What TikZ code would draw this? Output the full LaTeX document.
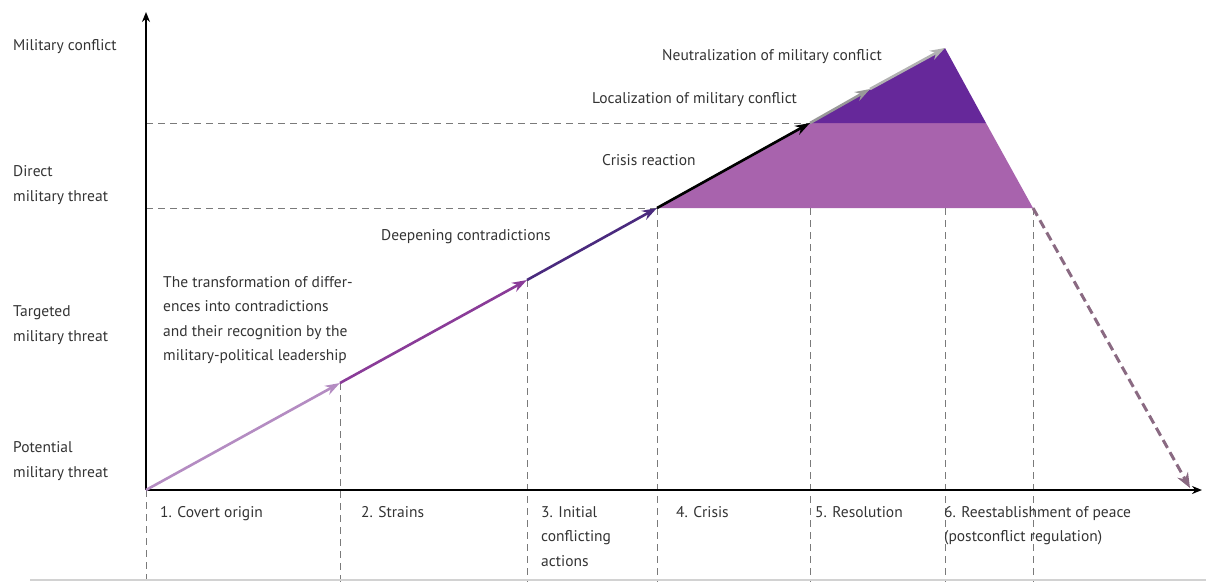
\documentclass[tikz,border=0pt]{standalone}
\usepackage{fontspec}
\setmainfont{PT Sans}
\usetikzlibrary{arrows.meta}
\definecolor{txt}{HTML}{333333}
\definecolor{seglight}{HTML}{B48CC2}
\definecolor{segmid}{HTML}{8A3C98}
\definecolor{segdark}{HTML}{4A2A7E}
\definecolor{filllight}{HTML}{A863AD}
\definecolor{filldark}{HTML}{66289A}
\definecolor{downcol}{HTML}{8A6A82}
\definecolor{guide}{HTML}{7A7A7A}
\tikzset{
  lbl/.style={font=\fontsize{15.5}{24.5}\selectfont, text=txt, align=left, inner sep=0pt, anchor=west},
  guideline/.style={guide, line width=0.8pt, dash pattern=on 7pt off 5pt},
  seg/.style={line width=2.6pt, -{Stealth[length=15pt,width=10pt]}},
  axis/.style={black, line width=1.6pt, -{Stealth[length=10pt,width=8pt]}}
}
\begin{document}
\begin{tikzpicture}[x=1pt,y=-1pt]
\useasboundingbox (0,0) rectangle (1206,582);
% key points
\coordinate (O) at (146,490);
\coordinate (ytop) at (146,12);
\coordinate (xend) at (1202,490);
\coordinate (p1) at (340,383);
\coordinate (p2) at (527,280);
\coordinate (p3) at (657,208);
\coordinate (p4) at (810,123);
\coordinate (p5) at (870,89);
\coordinate (apex) at (945,48);
\coordinate (r1) at (986,123);
\coordinate (r2) at (1033,208);
\coordinate (dend) at (1190,488);
\coordinate (h1) at (146,123);
\coordinate (h2) at (146,208);
% fills
\fill[filllight] (p3) -- (p4) -- (r1) -- (r2) -- cycle;
\fill[filldark] (p4) -- (apex) -- (r1) -- cycle;
% horizontal guides
\draw[guideline] (h1) -- (p4);
\draw[guideline] (h2) -- (p3);
% vertical guides
\coordinate (b0) at (146,582);
\coordinate (b1) at (340,582);
\coordinate (b2) at (527,582);
\coordinate (b3) at (657,582);
\coordinate (b4) at (810,582);
\coordinate (b5) at (945,582);
\coordinate (b6) at (1033,582);
\coordinate (t4) at (810,208);
\coordinate (t5) at (945,208);
\draw[guideline] (O) -- (b0);
\draw[guideline] (p1) -- (b1);
\draw[guideline] (p2) -- (b2);
\draw[guideline] (p3) -- (b3);
\draw[guideline] (t4) -- (b4);
\draw[guideline] (t5) -- (b5);
\draw[guideline] (r2) -- (b6);
% axes
\draw[axis] (O) -- (ytop);
\draw[axis] (O) -- (xend);
% rising arrows
\draw[seg, seglight] (O) -- (p1);
\draw[seg, segmid] (p1) -- (p2);
\draw[seg, segdark] (p2) -- (p3);
\draw[seg, black] (p3) -- (p4);
\draw[seg, gray!80] (p4) -- (p5);
\draw[seg, gray!60] (p5) -- (apex);
% descending dashed arrow
\draw[downcol, line width=3pt, dash pattern=on 9pt off 5pt, -{Stealth[length=15pt,width=12pt]}] (r2) -- (dend);
% bottom rule
\coordinate (rl) at (30,580);
\coordinate (rr) at (1206,580);
\draw[gray!35, line width=1.2pt] (rl) -- (rr);
% y labels
\node[lbl] (ym) at (13,47) {Military conflict};
\node[lbl] (yd) at (13,185) {Direct\\military threat};
\node[lbl] (yt) at (13,325) {Targeted\\military threat};
\node[lbl] (yp) at (13,461) {Potential\\military threat};
% inner labels
\node[lbl] (lt) at (163,320) {The transformation of differ-\\ences into contradictions\\and their recognition by the\\military-political leadership};
\node[lbl] (ldc) at (381,237) {Deepening contradictions};
\node[lbl] (lcr) at (602,160) {Crisis reaction};
\node[lbl] (llo) at (592,100) {Localization of military conflict};
\node[lbl] (lne) at (662,57) {Neutralization of military conflict};
% stage labels
\node[lbl, anchor=north west] (s1) at (160,506) {1. Covert origin};
\node[lbl, anchor=north west] (s2) at (361,506) {2. Strains};
\node[lbl, anchor=north west] (s3) at (541,506) {3. Initial\\conflicting\\actions};
\node[lbl, anchor=north west] (s4) at (676,506) {4. Crisis};
\node[lbl, anchor=north west] (s5) at (815,506) {5. Resolution};
\node[lbl, anchor=north west] (s6) at (944,506) {6. Reestablishment of peace\\(postconflict regulation)};
\end{tikzpicture}
\end{document}
